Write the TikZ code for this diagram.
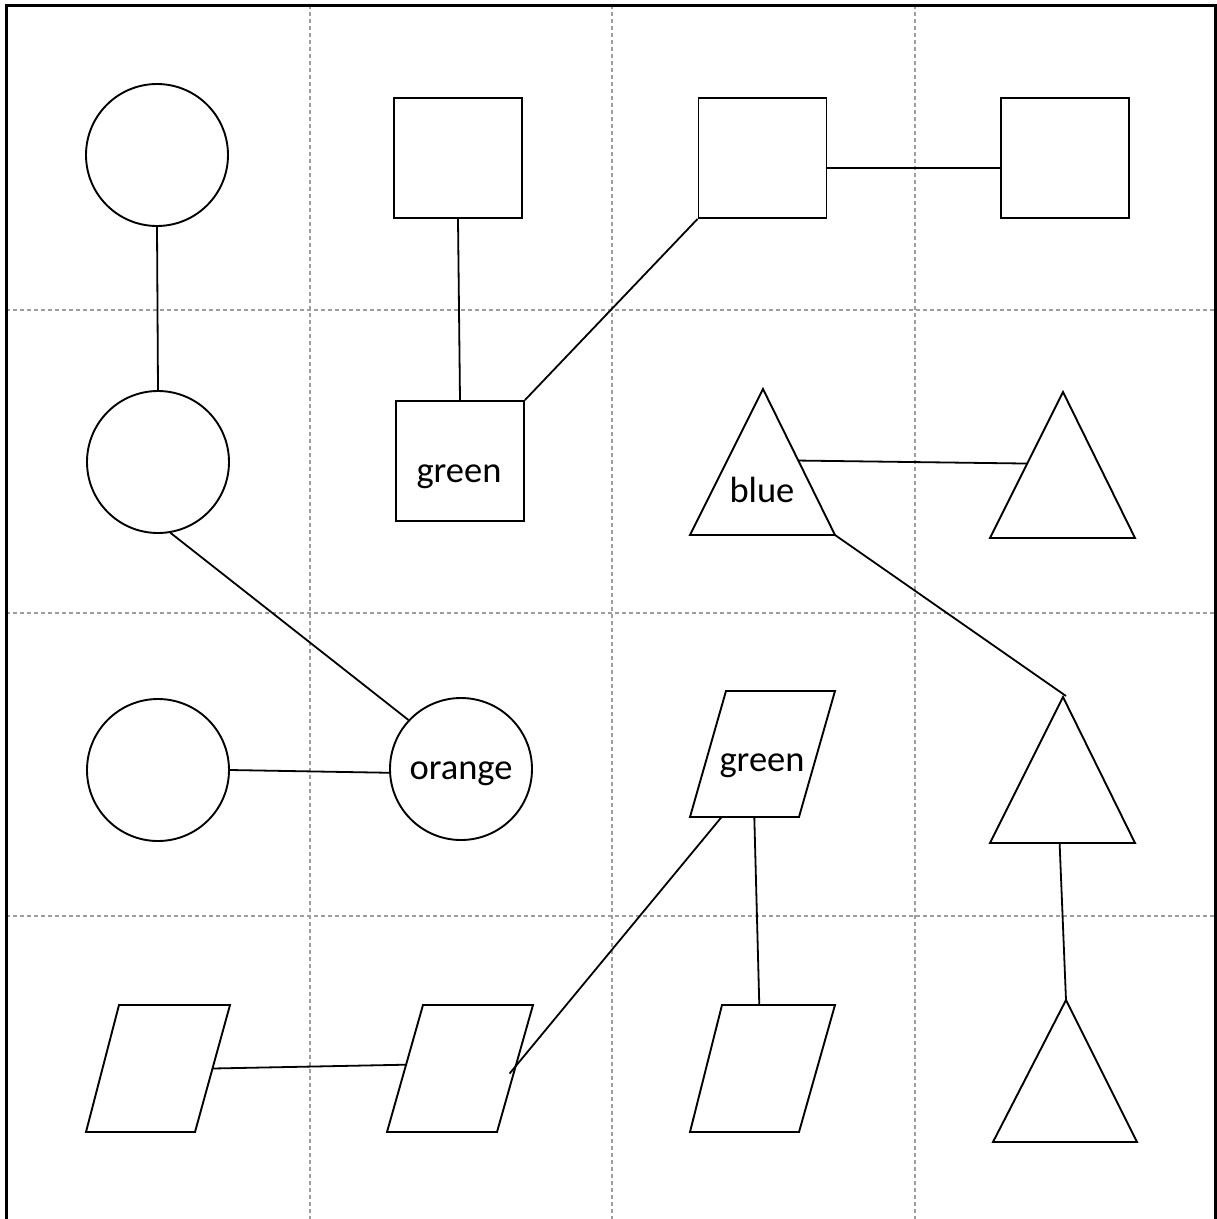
\documentclass[tikz,border=0pt]{standalone}
\usepackage{fontspec}
\setmainfont{Carlito}
\usetikzlibrary{calc}
\begin{document}
\begin{tikzpicture}[x=1pt,y=-1pt,
  shp/.style={draw=black,line width=1.9pt,line join=miter},
  circ/.style={shp,circle,minimum size=142pt,inner sep=0pt},
  sqbox/.style={shp,rectangle,minimum width=128pt,minimum height=120pt,inner sep=0pt},
  conn/.style={draw=black,line width=1.8pt},
  gridline/.style={draw=black!38,line width=1.4pt,dash pattern=on 4pt off 3pt},
  lbl/.style={font=\fontsize{36.5}{40}\selectfont,inner sep=0pt}]
\useasboundingbox (0,0) rectangle (1217,1219);
\fill[white] (0,0) rectangle (1217,1219);
% grid
\foreach \gx in {310,612,915} \draw[gridline] (\gx,5) -- (\gx,1219);
\foreach \gy in {310,613,916} \draw[gridline] (6,\gy) -- (1215,\gy);
% frame
\draw[line width=3pt] (6,1222) -- (6,5) -- (1215,5) -- (1215,1222);
% circles
\node[circ] (c1) at (157,155) {};
\node[circ] (c2) at (158,462) {};
\node[circ] (c3) at (158,770) {};
\node[circ] (co) at (461,769) {};
\node[lbl] (colbl) at (461,774) {orange};
% squares
\node[sqbox] (s1) at (458,158) {};
\node[sqbox] (s2) at (762.5,158) {};
\node[sqbox] (s3) at (1065,158) {};
\node[sqbox] (sg) at (460,461) {};
\node[lbl] (sglbl) at (459,477) {green};
% triangles
\coordinate (t1a) at (763,389); \coordinate (t1l) at (690,535); \coordinate (t1r) at (835,535);
\coordinate (t2a) at (1063,392); \coordinate (t2l) at (990,538); \coordinate (t2r) at (1135,538);
\coordinate (t3a) at (1063,697); \coordinate (t3l) at (990,843); \coordinate (t3r) at (1135,843);
\coordinate (t4a) at (1066,1000); \coordinate (t4l) at (993,1142); \coordinate (t4r) at (1137,1142);
\foreach \t in {t1,t2,t3,t4} \draw[shp] (\t a) -- (\t r) -- (\t l) -- cycle;
\node[lbl] (t1lbl) at (762,490) {blue};
% parallelograms
\coordinate (pgtl) at (726,691); \coordinate (pgtr) at (835,691); \coordinate (pgbr) at (799,817); \coordinate (pgbl) at (690,817);
\coordinate (p1tl) at (119,1005); \coordinate (p1tr) at (230,1005); \coordinate (p1br) at (195,1132); \coordinate (p1bl) at (86,1132);
\coordinate (p2tl) at (423,1005); \coordinate (p2tr) at (533,1005); \coordinate (p2br) at (497,1132); \coordinate (p2bl) at (387,1132);
\coordinate (p3tl) at (722,1005); \coordinate (p3tr) at (835,1005); \coordinate (p3br) at (799,1132); \coordinate (p3bl) at (690,1132);
\foreach \p in {pg,p1,p2,p3} \draw[shp] (\p tl) -- (\p tr) -- (\p br) -- (\p bl) -- cycle;
\node[lbl] (pglbl) at (762,766) {green};
% connectors
\draw[conn] (c1.south) -- (c2.north);
\draw[conn] (c2.280) -- (co.137);
\draw[conn] (c3.east) -- (co.183);
\draw[conn] (s1.south) -- (sg.north);
\draw[conn] (s2.south west) -- (sg.north east);
\draw[conn] ([yshift=-10pt]s2.east) -- ([yshift=-10pt]s3.west);
\draw[conn] ($(t1a)!0.49!(t1r)$) -- ($(t2a)!0.49!(t2l)$);
\draw[conn] (t1r) -- ($(t3a)+(3,-1)$);
\draw[conn] ($(t3l)!0.48!(t3r)$) -- (t4a);
\draw[conn] ($(pgbl)!0.59!(pgbr)$) -- ($(p3tl)!0.33!(p3tr)$);
\draw[conn] ($(pgbl)!0.29!(pgbr)$) -- ($(p2tr)!0.54!(p2br)+(-4,0)$);
\draw[conn] ($(p1tr)!0.5!(p1br)$) -- ($(p2tl)!0.47!(p2bl)$);
\end{tikzpicture}
\end{document}
